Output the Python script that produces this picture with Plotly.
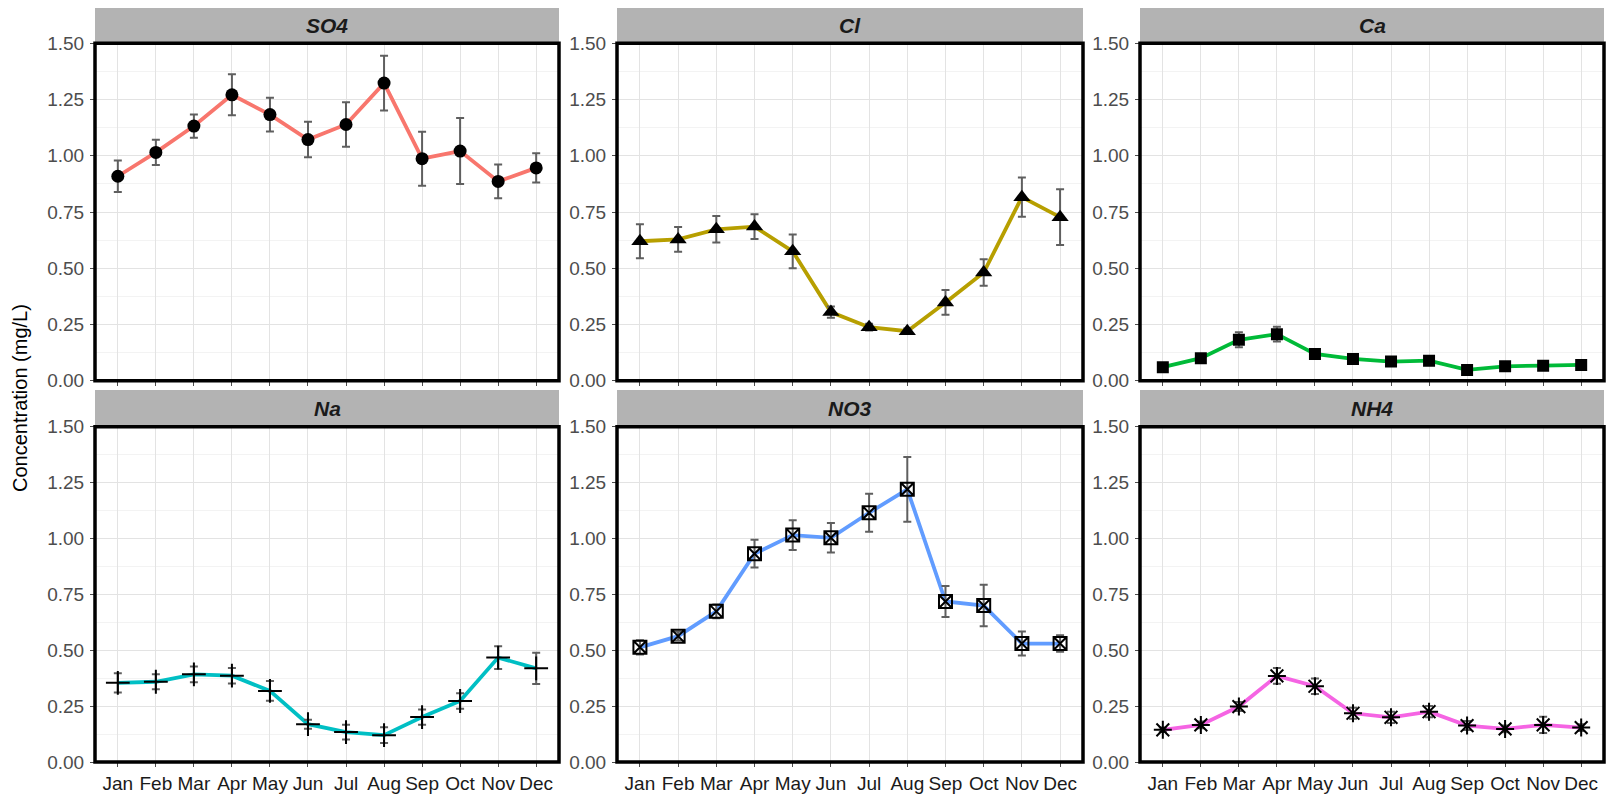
import plotly.graph_objects as go

months = ["Jan", "Feb", "Mar", "Apr", "May", "Jun", "Jul", "Aug", "Sep", "Oct", "Nov", "Dec"]
month_idx = list(range(1, 13))

so4 = [0.909, 1.015, 1.132, 1.271, 1.183, 1.072, 1.139, 1.323, 0.987, 1.021, 0.886, 0.946]
so4_err = [0.070, 0.056, 0.052, 0.091, 0.075, 0.079, 0.099, 0.122, 0.120, 0.147, 0.075, 0.065]

cl = [0.620, 0.628, 0.673, 0.685, 0.575, 0.305, 0.238, 0.220, 0.348, 0.481, 0.816, 0.727]
cl_err = [0.076, 0.055, 0.059, 0.055, 0.075, 0.025, 0.015, 0.012, 0.055, 0.059, 0.087, 0.124]

ca = [0.060, 0.100, 0.182, 0.207, 0.119, 0.097, 0.085, 0.089, 0.048, 0.064, 0.067, 0.070]
ca_err = [0.010, 0.012, 0.033, 0.033, 0.012, 0.010, 0.008, 0.010, 0.008, 0.008, 0.008, 0.008]

na = [0.354, 0.359, 0.392, 0.386, 0.318, 0.169, 0.134, 0.120, 0.201, 0.273, 0.467, 0.419]
na_err = [0.043, 0.034, 0.035, 0.035, 0.044, 0.020, 0.033, 0.035, 0.034, 0.035, 0.051, 0.070]

no3 = [0.513, 0.563, 0.674, 0.932, 1.015, 1.003, 1.115, 1.220, 0.718, 0.700, 0.530, 0.530]
no3_err = [0.032, 0.020, 0.031, 0.062, 0.067, 0.066, 0.085, 0.145, 0.069, 0.093, 0.054, 0.037]

nh4 = [0.144, 0.166, 0.248, 0.385, 0.339, 0.218, 0.200, 0.225, 0.163, 0.148, 0.166, 0.154]
nh4_err = [0.010, 0.015, 0.020, 0.035, 0.035, 0.025, 0.025, 0.025, 0.020, 0.015, 0.036, 0.015]

panels = [
    ("SO4", so4, so4_err, "#F8766D", "circle", 13),
    ("Cl", cl, cl_err, "#B79F00", "triangle-up", 15),
    ("Ca", ca, ca_err, "#00BA38", "square", 12),
    ("Na", na, na_err, "#00BFC4", "cross-thin-open", 17),
    ("NO3", no3, no3_err, "#619CFF", "square-x-open", 13),
    ("NH4", nh4, nh4_err, "#F564E3", "asterisk-open", 15),
]

W, H = 1608, 794
col_px = [(95, 559), (617, 1083), (1140, 1604)]
row_px = [(43.3, 380.7), (426.7, 762.0)]
strip_px = [(8.0, 43.3), (390.0, 426.7)]

FONT = "Liberation Sans, Arial, sans-serif"

fig = go.Figure()
layout = dict(
    width=W, height=H,
    margin=dict(l=0, r=0, t=0, b=0),
    paper_bgcolor="white", plot_bgcolor="white",
    showlegend=False,
    font=dict(family=FONT),
)
shapes = []
annotations = []

for i, (name, vals, errs, color, sym, msize) in enumerate(panels):
    r, c = divmod(i, 3)
    n = i + 1
    xa = "x" if n == 1 else f"x{n}"
    ya = "y" if n == 1 else f"y{n}"
    xkey = "xaxis" if n == 1 else f"xaxis{n}"
    ykey = "yaxis" if n == 1 else f"yaxis{n}"
    x0, x1 = col_px[c]
    yt, yb = row_px[r]
    layout[xkey] = dict(
        domain=[x0 / W, x1 / W], anchor=ya, range=[0.4, 12.6],
        tickvals=month_idx, ticktext=months, showticklabels=(r == 1),
        tickangle=0, automargin=False,
        showgrid=True, gridcolor="#e3e3e3", gridwidth=1.1,
        ticks="outside", ticklen=4, tickcolor="#4d4d4d", tickwidth=1,
        ticklabelstandoff=0,
        tickfont=dict(size=19, color="#1a1a1a", family=FONT),
        zeroline=False, showline=False, fixedrange=True,
    )
    layout[ykey] = dict(
        domain=[(H - yb) / H, (H - yt) / H], anchor=xa, range=[0, 1.5],
        tickvals=[0, 0.25, 0.5, 0.75, 1.0, 1.25, 1.5],
        ticktext=["0.00", "0.25", "0.50", "0.75", "1.00", "1.25", "1.50"],
        automargin=False,
        showgrid=True, gridcolor="#e3e3e3", gridwidth=1.1,
        minor=dict(tickvals=[0.125, 0.375, 0.625, 0.875, 1.125, 1.375],
                   showgrid=True, gridcolor="#f3f3f3", gridwidth=0.8, ticks=""),
        ticks="outside", ticklen=4, tickcolor="#4d4d4d", tickwidth=1,
        ticklabelstandoff=2,
        tickfont=dict(size=19, color="#4d4d4d", family=FONT),
        zeroline=False, showline=False, fixedrange=True,
    )
    fig.add_trace(go.Scatter(
        x=month_idx, y=vals, mode="lines", xaxis=xa, yaxis=ya,
        line=dict(color=color, width=3.8), hoverinfo="skip",
    ))
    open_sym = sym.endswith("open")
    fig.add_trace(go.Scatter(
        x=month_idx, y=vals, mode="markers", xaxis=xa, yaxis=ya,
        error_y=dict(type="data", array=errs, visible=True,
                     color="#5f5f5f", thickness=2, width=4),
        marker=dict(symbol=sym, size=msize, color="black",
                    line=dict(color="black", width=2 if open_sym else 0)),
    ))
    # panel border
    shapes.append(dict(type="rect", xref=f"{xa} domain", yref=f"{ya} domain",
                       x0=0, x1=1, y0=0, y1=1, line=dict(color="black", width=3.5),
                       fillcolor="rgba(0,0,0,0)", layer="above"))
    # strip
    st, sb = strip_px[r]
    shapes.append(dict(type="rect", xref="paper", yref="paper",
                       x0=x0 / W, x1=x1 / W, y0=(H - sb) / H, y1=(H - st) / H,
                       line=dict(width=0), fillcolor="#b3b3b3", layer="below"))
    annotations.append(dict(
        xref="paper", yref="paper", x=(x0 + x1) / 2 / W, y=(H - (st + sb) / 2) / H,
        text=f"<b><i>{name}</i></b>", showarrow=False,
        font=dict(size=21, color="#1a1a1a", family=FONT),
        xanchor="center", yanchor="middle",
    ))

annotations.append(dict(
    xref="paper", yref="paper", x=20 / W, y=(H - 398) / H,
    text="Concentration (mg/L)", showarrow=False, textangle=-90,
    font=dict(size=20, color="black", family=FONT),
    xanchor="center", yanchor="middle",
))

layout["shapes"] = shapes
layout["annotations"] = annotations
fig.update_layout(**layout)
fig.write_html("out.html")
